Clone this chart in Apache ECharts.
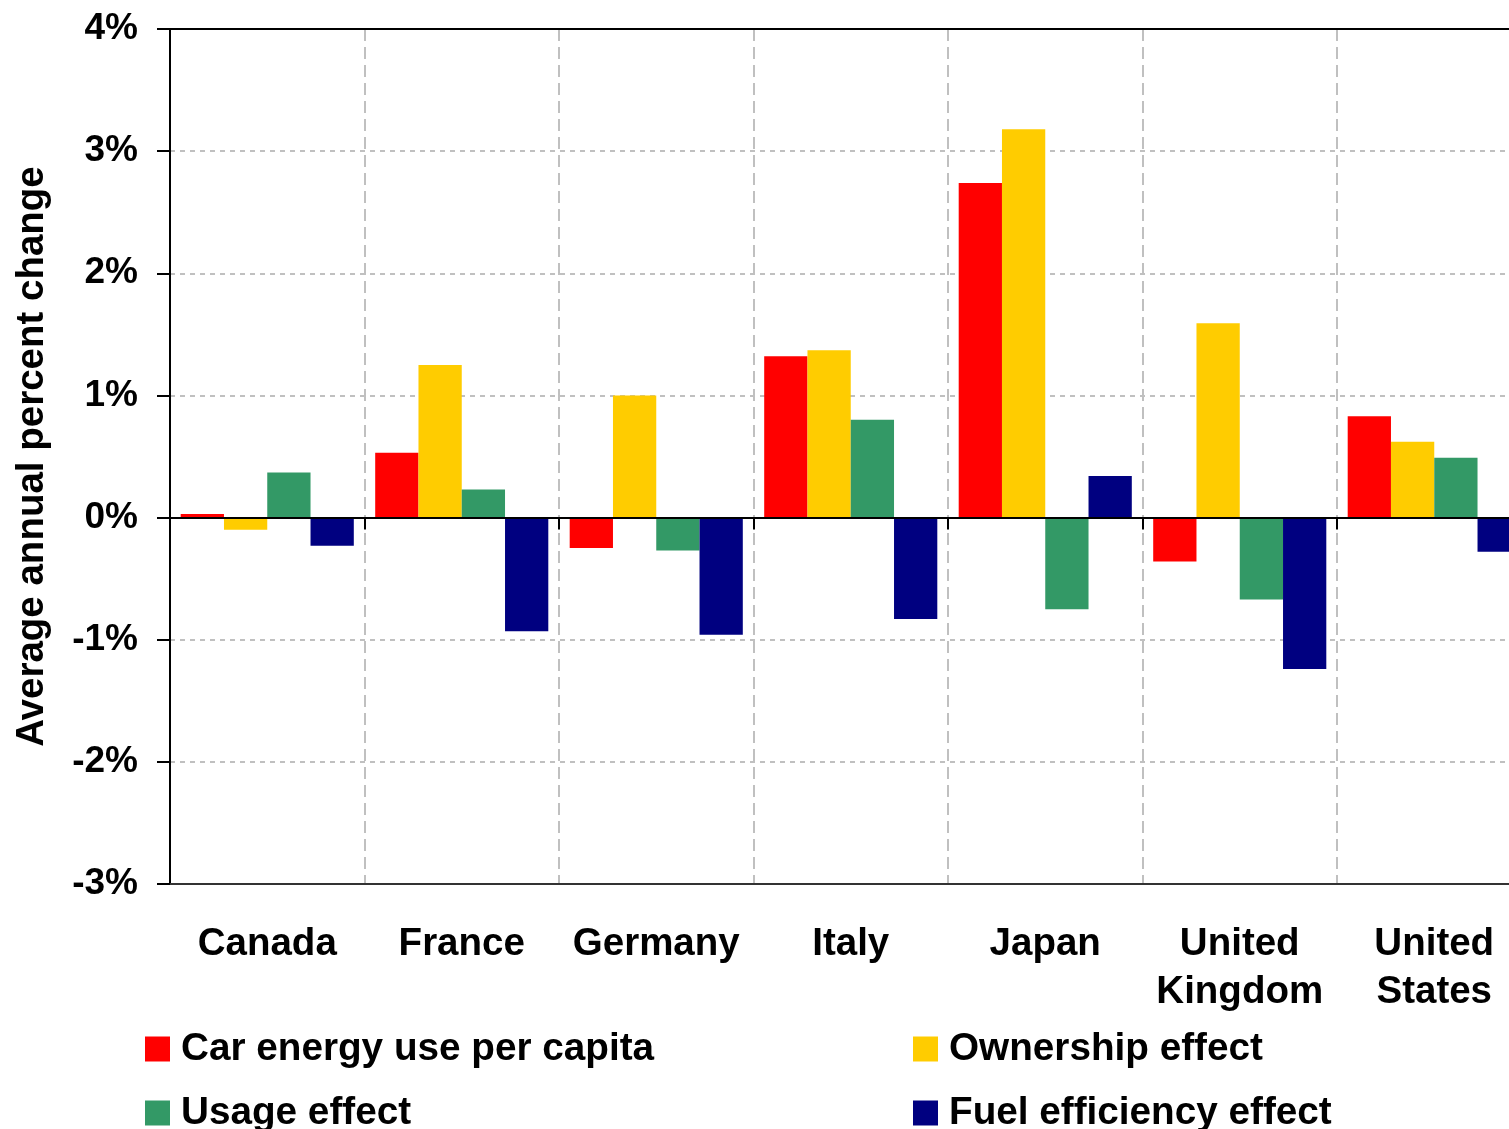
<!DOCTYPE html>
<html>
<head>
<meta charset="utf-8">
<script src="https://cdn.jsdelivr.net/npm/echarts@6/dist/echarts.min.js"></script>
<style>
html,body{margin:0;padding:0;background:#fff;}
#chart{width:1509px;height:1129px;}
</style>
</head>
<body>
<div id="chart"></div>
<script>
const categories = ["Canada", "France", "Germany", "Italy", "Japan", "United Kingdom", "United States"];
const seriesNames = ["Car energy use per capita", "Ownership effect", "Usage effect", "Fuel efficiency effect"];
const carEnergy = [0.03, 0.53, -0.25, 1.32, 2.74, -0.36, 0.83];
const ownership = [-0.10, 1.25, 1.00, 1.37, 3.18, 1.59, 0.62];
const usage = [0.37, 0.23, -0.27, 0.80, -0.75, -0.67, 0.49];
const fuelEff = [-0.23, -0.93, -0.96, -0.83, 0.34, -1.24, -0.28];
const yTicks = { min: -3, max: 4, interval: 1 };
const colors = ["#FF0000", "#FFCC00", "#339966", "#000080"];

const font = "'Liberation Sans', Arial, sans-serif";
const chart = echarts.init(document.getElementById('chart'), null, { renderer: 'canvas' });

const dataSets = [carEnergy, ownership, usage, fuelEff];
const series = seriesNames.map((n, i) => ({
  name: n,
  type: 'bar',
  data: dataSets[i],
  barGap: '0%',
  barCategoryGap: '11%',
  itemStyle: { color: colors[i] },
  z: 2
}));

const legendCommon = {
  orient: 'horizontal',
  itemWidth: 25,
  itemHeight: 25,
  icon: 'rect',
  padding: 0,
  textStyle: { fontFamily: font, fontWeight: 'bold', fontSize: 38.7, color: '#000', lineHeight: 40, padding: [0, 0, 0, 6] }
};
const legendPos = [[145, 1029], [913, 1029], [145, 1093], [913, 1093]];

chart.setOption({
  animation: false,
  backgroundColor: '#fff',
  color: colors,
  grid: {
    left: 170, top: 29, bottom: 245, right: -22.5,
    outerBoundsMode: 'none',
    containLabel: false
  },
  legend: seriesNames.map((n, i) => Object.assign({}, legendCommon, { left: legendPos[i][0], top: legendPos[i][1], data: [n] })),
  xAxis: [
    {
      type: 'category',
      data: categories,
      position: 'bottom',
      boundaryGap: true,
      axisLine: { onZero: false, lineStyle: { color: '#333', width: 2 } },
      axisTick: { show: false },
      axisLabel: {
        interval: 0,
        margin: 36,
        fontFamily: font, fontWeight: 'bold', fontSize: 38.5, color: '#000', lineHeight: 48,
        formatter: v => v.replace(' ', '\n')
      },
      splitLine: { show: true, interval: 0, lineStyle: { color: '#c0c0c0', width: 2, type: [12, 6] } }
    },
    {
      type: 'category',
      data: categories,
      position: 'bottom',
      boundaryGap: true,
      axisLine: { onZero: true, onZeroAxisIndex: 0, lineStyle: { color: '#000', width: 2 } },
      axisTick: { show: true, interval: 0, length: 12, lineStyle: { color: '#000', width: 2 } },
      axisLabel: { show: false },
      splitLine: { show: false },
      z: 5
    },
    {
      type: 'category',
      data: categories,
      position: 'top',
      boundaryGap: true,
      axisLine: { onZero: false, lineStyle: { color: '#000', width: 2 } },
      axisTick: { show: false },
      axisLabel: { show: false },
      splitLine: { show: false },
      z: 5
    }
  ],
  yAxis: {
    type: 'value',
    min: yTicks.min, max: yTicks.max, interval: yTicks.interval,
    name: 'Average annual percent change',
    nameLocation: 'middle',
    nameGap: 118,
    nameTextStyle: { fontFamily: font, fontWeight: 'bold', fontSize: 38.5, color: '#000' },
    axisLine: { show: true, onZero: false, lineStyle: { color: '#000', width: 2 } },
    axisTick: { show: true, length: 13, lineStyle: { color: '#000', width: 2 } },
    axisLabel: {
      margin: 32,
      fontFamily: font, fontWeight: 'bold', fontSize: 37, color: '#000',
      padding: [4, 0, 0, 0],
      formatter: v => v + '%'
    },
    splitLine: { show: true, lineStyle: { color: '#c0c0c0', width: 2, type: [5, 5] } }
  },
  series: series
});
</script>
</body>
</html>
